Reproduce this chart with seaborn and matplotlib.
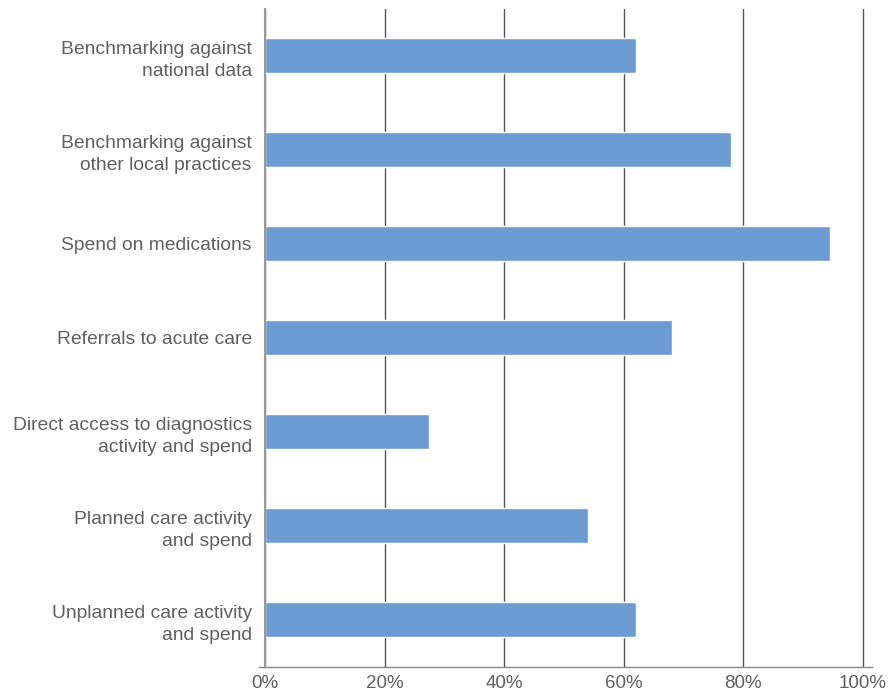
import matplotlib
matplotlib.use("Agg")
import matplotlib.pyplot as plt
import seaborn as sns
import pandas as pd
from matplotlib.ticker import FuncFormatter

categories = [
    "Benchmarking against\nnational data",
    "Benchmarking against\nother local practices",
    "Spend on medications",
    "Referrals to acute care",
    "Direct access to diagnostics\nactivity and spend",
    "Planned care activity\nand spend",
    "Unplanned care activity\nand spend",
]
values = [62, 78, 94.5, 68, 27.5, 54, 62]
x_ticks = [0, 20, 40, 60, 80, 100]

df = pd.DataFrame({"category": categories, "value": values})

sns.set_theme(style="white")
plt.rcParams["font.family"] = ["Liberation Sans", "DejaVu Sans"]
text_color = "#606060"

fig = plt.figure(figsize=(8.95, 6.93), dpi=100)
ax = fig.add_axes([265 / 895, 1 - 667 / 693, (863 - 265) / 895, (667 - 8.5) / 693])

sns.barplot(data=df, x="value", y="category", orient="h", color="#6C9BD2",
            saturation=1, width=0.372, ax=ax, zorder=3)

ax.set_xlim(0, 100)
ax.set_xticks(x_ticks)
ax.xaxis.set_major_formatter(FuncFormatter(lambda v, p: f"{int(v)}%"))
ax.set_xlabel("")
ax.set_ylabel("")

ax.grid(axis="x", color="#555555", linewidth=1.0, zorder=0)
ax.grid(axis="y", visible=False)
for gl in ax.get_xgridlines():
    gl.set_clip_on(False)

for side in ["top", "right"]:
    ax.spines[side].set_visible(False)
ax.spines["left"].set_color("#999999")
ax.spines["left"].set_linewidth(1.5)
ax.spines["left"].set_zorder(4)
ax.spines["bottom"].set_color("#888888")
ax.spines["bottom"].set_linewidth(1.0)
ax.spines["bottom"].set_bounds(-1.0, 101.5)

ax.tick_params(axis="y", length=0, pad=9.5, labelsize=13.9, labelcolor=text_color)
ax.tick_params(axis="x", length=0, pad=6, labelsize=13.5, labelcolor=text_color)
for lbl in ax.get_yticklabels():
    lbl.set_multialignment("right")
    lbl.set_linespacing(1.4)

fig.savefig("out.png", dpi=100, facecolor="white")
